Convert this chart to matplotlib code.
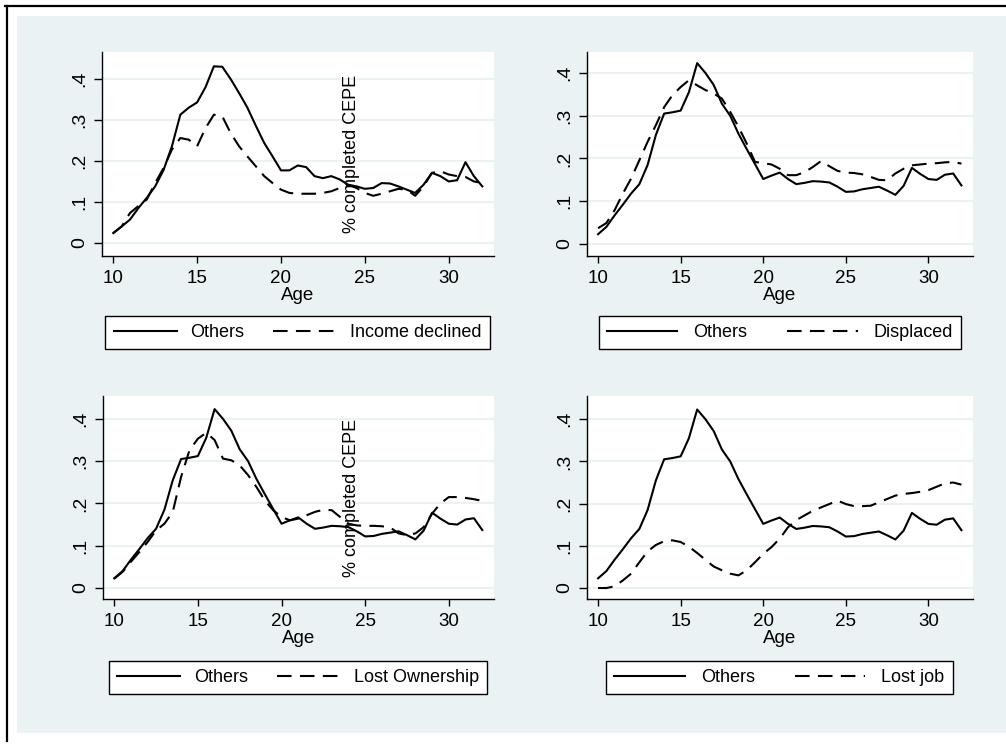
import matplotlib.pyplot as plt
import numpy as np
from matplotlib.lines import Line2D
from matplotlib.patches import Rectangle

plt.rcParams['font.family'] = ['Liberation Sans', 'DejaVu Sans']

# age grid (half years)
ages = np.arange(10, 32.5, 0.5)

# "Others" group in the top-left panel
others_income = [0.024, 0.040, 0.057, 0.085, 0.110, 0.138, 0.178, 0.236, 0.313, 0.330,
                 0.343, 0.380, 0.431, 0.430, 0.400, 0.366, 0.330, 0.286, 0.244, 0.211,
                 0.177, 0.177, 0.189, 0.185, 0.163, 0.158, 0.163, 0.155, 0.142, 0.138,
                 0.132, 0.134, 0.146, 0.145, 0.138, 0.130, 0.122, 0.142, 0.171, 0.163,
                 0.150, 0.153, 0.197, 0.163, 0.138]
income_declined = [0.024, 0.040, 0.073, 0.090, 0.106, 0.146, 0.183, 0.228, 0.256, 0.252,
                   0.236, 0.280, 0.313, 0.309, 0.268, 0.236, 0.211, 0.187, 0.163, 0.146,
                   0.130, 0.122, 0.120, 0.120, 0.120, 0.122, 0.126, 0.134, 0.142, 0.134,
                   0.122, 0.115, 0.120, 0.126, 0.132, 0.130, 0.115, 0.138, 0.171, 0.175,
                   0.167, 0.163, 0.161, 0.150, 0.146]

# "Others" group in the other three panels
others = [0.023, 0.040, 0.067, 0.092, 0.118, 0.140, 0.185, 0.255, 0.305, 0.308,
          0.312, 0.355, 0.423, 0.400, 0.372, 0.328, 0.300, 0.258, 0.222, 0.187,
          0.152, 0.160, 0.167, 0.152, 0.140, 0.143, 0.147, 0.146, 0.144, 0.134,
          0.122, 0.123, 0.128, 0.131, 0.134, 0.125, 0.115, 0.136, 0.178, 0.164,
          0.152, 0.150, 0.162, 0.165, 0.137]
displaced = [0.037, 0.049, 0.079, 0.118, 0.153, 0.196, 0.239, 0.278, 0.320, 0.348,
             0.367, 0.383, 0.371, 0.360, 0.352, 0.340, 0.309, 0.274, 0.235, 0.192,
             0.189, 0.186, 0.176, 0.161, 0.161, 0.168, 0.180, 0.194, 0.182, 0.171,
             0.167, 0.166, 0.163, 0.157, 0.150, 0.149, 0.165, 0.176, 0.184, 0.186,
             0.188, 0.189, 0.191, 0.192, 0.188]
lost_ownership = [0.022, 0.038, 0.062, 0.085, 0.109, 0.136, 0.152, 0.180, 0.263, 0.326,
                  0.353, 0.367, 0.350, 0.306, 0.302, 0.290, 0.267, 0.239, 0.207, 0.184,
                  0.168, 0.160, 0.164, 0.172, 0.180, 0.185, 0.184, 0.168, 0.152, 0.148,
                  0.147, 0.147, 0.146, 0.143, 0.129, 0.125, 0.129, 0.144, 0.176, 0.200,
                  0.215, 0.215, 0.213, 0.210, 0.206]
lost_job = [0.000, 0.000, 0.004, 0.018, 0.034, 0.061, 0.087, 0.102, 0.111, 0.113,
            0.109, 0.098, 0.083, 0.067, 0.051, 0.042, 0.034, 0.030, 0.042, 0.061,
            0.081, 0.097, 0.117, 0.144, 0.161, 0.172, 0.183, 0.191, 0.199, 0.207,
            0.199, 0.194, 0.194, 0.195, 0.203, 0.211, 0.219, 0.223, 0.225, 0.228,
            0.232, 0.240, 0.248, 0.250, 0.245]

panels = [
    (others_income, income_declined, "Income declined"),
    (others, displaced, "Displaced"),
    (others, lost_ownership, "Lost Ownership"),
    (others, lost_job, "Lost job"),
]

W, H = 1006, 745
BG = "#EAF2F3"
fig = plt.figure(figsize=(W / 100, H / 100), dpi=100, facecolor="white")

# stata-like graph region + frame
fig.patches.append(Rectangle((17 / W, 1 - 733 / H), 1, (733 - 16) / H,
                             transform=fig.transFigure, facecolor=BG, edgecolor="none",
                             zorder=-10))
fig.lines.append(Line2D([5 / W, 1], [1 - 6 / H, 1 - 6 / H], transform=fig.transFigure,
                        color="black", lw=1.6, zorder=-5))
fig.lines.append(Line2D([7 / W, 7 / W], [1 - 6 / H, 1 - 741 / H], transform=fig.transFigure,
                        color="black", lw=1.6, zorder=-5))

# axes boxes in pixels: left, top, right, bottom
boxes = [(102, 52, 494, 256), (587, 52, 973, 256), (103, 396, 494, 599), (587, 396, 973, 599)]
ylims = [(-0.032, 0.466), (-0.028, 0.449), (-0.026, 0.454), (-0.026, 0.455)]
legend_pos = [(297.5, 316), (780, 316), (298, 661), (779.5, 661)]
# left column legends are squeezed, right column ones are roomier
legend_sp = [(3.5, 0.75, 1.6), (3.9, 0.9, 2.2), (3.5, 0.75, 1.6), (3.9, 0.9, 2.2)]

for (oth, grp, name), (l, t, r, b), yl, (lx, ly), (hl, tp, cs) in zip(
        panels, boxes, ylims, legend_pos, legend_sp):
    ax = fig.add_axes([l / W, 1 - b / H, (r - l) / W, (b - t) / H])
    ax.set_facecolor("white")
    ax.plot(ages, oth, color="black", lw=1.5, label="Others")
    ax.plot(ages, grp, color="black", lw=1.5, ls=(0, (7, 4)), label=name)
    ax.set_xlim(9.33, 32.7)
    ax.set_ylim(*yl)
    ax.set_xticks([10, 15, 20, 25, 30])
    ax.set_yticks([0, 0.1, 0.2, 0.3, 0.4])
    ax.set_yticklabels(["0", ".1", ".2", ".3", ".4"], rotation=90, va="center")
    ax.grid(axis="y", color=BG, lw=1.5)
    ax.set_axisbelow(True)
    for s in ["top", "right"]:
        ax.spines[s].set_visible(False)
    for s in ["left", "bottom"]:
        ax.spines[s].set_linewidth(1.0)
    ax.tick_params(axis="x", direction="out", length=5, width=1, labelsize=13.5, pad=5)
    ax.tick_params(axis="y", direction="out", length=6, width=1, labelsize=14, pad=4)
    ax.set_xlabel("Age", fontsize=13.5, labelpad=0)
    leg = ax.legend(loc="upper center", bbox_to_anchor=(lx / W, 1 - ly / H),
                    bbox_transform=fig.transFigure, ncol=2, fontsize=13,
                    frameon=True, fancybox=False, edgecolor="black", framealpha=1,
                    handlelength=hl, handletextpad=tp, columnspacing=cs,
                    borderpad=0.45, borderaxespad=0)
    leg.get_frame().set_linewidth(1.0)

fig.text(352 / W, 1 - 154 / H, "% completed CEPE", rotation=90, fontsize=13,
         ha="center", va="center")
fig.text(352 / W, 1 - 498 / H, "% completed CEPE", rotation=90, fontsize=13,
         ha="center", va="center")

fig.savefig("out.png", dpi=100, facecolor="white")
